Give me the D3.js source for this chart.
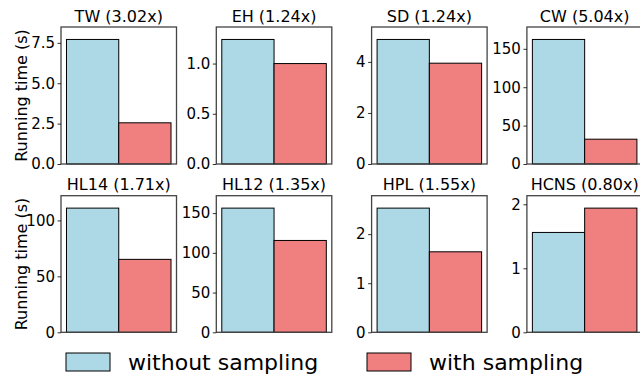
<!DOCTYPE html>
<html>
<head>
<meta charset="utf-8">
<script src="https://cdn.jsdelivr.net/npm/d3@7"></script>
<style>
  body { margin: 0; background: #fff; }
  svg { display: block; font-family: "DejaVu Sans", sans-serif; }
</style>
</head>
<body>
<div id="chart"></div>
<script>
// panel data
const panelNames = ["TW", "EH", "SD", "CW", "HL14", "HL12", "HPL", "HCNS"];
const speedups = ["3.02x", "1.24x", "1.24x", "5.04x", "1.71x", "1.35x", "1.55x", "0.80x"];
const withoutSampling = [7.71, 1.24, 4.88, 162.2, 111.0, 156.3, 2.53, 1.56];
const withSampling = [2.55, 1.00, 3.95, 32.3, 65.2, 115.6, 1.64, 1.94];
const tickValues = [
  [0, 2.5, 5, 7.5], [0, 0.5, 1], [0, 2, 4], [0, 50, 100, 150],
  [0, 50, 100], [0, 50, 100, 150], [0, 1, 2], [0, 1, 2]
];
const tickLabels = [
  ["0.0", "2.5", "5.0", "7.5"], ["0.0", "0.5", "1.0"], ["0", "2", "4"], ["0", "50", "100", "150"],
  ["0", "50", "100"], ["0", "50", "100", "150"], ["0", "1", "2"], ["0", "1", "2"]
];
const seriesNames = ["without sampling", "with sampling"];
const seriesColors = ["#ADD8E6", "#F08080"];

const W = 640, H = 375;
const panelW = 115.5, panelStep = 155.3, left0 = 61;
const rowTop = [27, 195.7], rowBottom = [164, 332.3];

const svg = d3.select("#chart").append("svg")
  .attr("width", W)
  .attr("height", H);

panelNames.forEach((name, i) => {
  const col = i % 4, row = Math.floor(i / 4);
  const x0 = left0 + col * panelStep;
  const top = rowTop[row], bottom = rowBottom[row];
  const h = bottom - top;
  const vals = [withoutSampling[i], withSampling[i]];

  const g = svg.append("g").attr("transform", "translate(" + x0 + "," + top + ")");

  const x = d3.scaleBand().domain(seriesNames).range([0, panelW])
    .paddingInner(0).paddingOuter(0.105);
  const y = d3.scaleLinear().domain([0, d3.max(vals) * 1.1]).range([h, 0]);

  g.selectAll("rect.bar")
    .data(vals)
    .enter().append("rect")
    .attr("class", "bar")
    .attr("x", (d, j) => x(seriesNames[j]))
    .attr("y", d => y(d))
    .attr("width", x.bandwidth())
    .attr("height", d => y(0) - y(d))
    .attr("fill", (d, j) => seriesColors[j])
    .attr("stroke", "#000")
    .attr("stroke-width", 1);

  // frame
  g.append("rect")
    .attr("x", 0).attr("y", 0)
    .attr("width", panelW).attr("height", h)
    .attr("fill", "none")
    .attr("stroke", "#444")
    .attr("stroke-width", 1.3);

  const labels = tickLabels[i];
  const axis = d3.axisLeft(y)
    .tickValues(tickValues[i])
    .tickFormat((d, k) => labels[k])
    .tickSize(3.5)
    .tickPadding(2.5);
  const ax = g.append("g").call(axis);
  ax.select(".domain").remove();
  ax.selectAll(".tick line").attr("stroke", "#000").attr("stroke-width", 0.8);
  ax.selectAll(".tick text")
    .attr("font-size", 15)
    .attr("font-family", "DejaVu Sans")
    .attr("fill", "#000");

  g.append("text")
    .attr("x", panelW / 2)
    .attr("y", -5.5)
    .attr("text-anchor", "middle")
    .attr("font-size", 16)
    .attr("fill", "#000")
    .text(name + " (" + speedups[i] + ")");

  if (col === 0) {
    g.append("text")
      .attr("transform", "translate(-34," + (h / 2) + ") rotate(-90)")
      .attr("text-anchor", "middle")
      .attr("font-size", 16)
      .attr("fill", "#000")
      .text("Running time (s)");
  }
});

// legend
const legendX = [66, 367];
const legend = svg.append("g");
seriesNames.forEach((s, j) => {
  legend.append("rect")
    .attr("x", legendX[j]).attr("y", 353)
    .attr("width", 44).attr("height", 18)
    .attr("fill", seriesColors[j])
    .attr("stroke", "#000")
    .attr("stroke-width", 1);
  legend.append("text")
    .attr("x", legendX[j] + 62)
    .attr("y", 370)
    .attr("font-size", 22)
    .attr("fill", "#000")
    .text(s);
});
</script>
</body>
</html>
